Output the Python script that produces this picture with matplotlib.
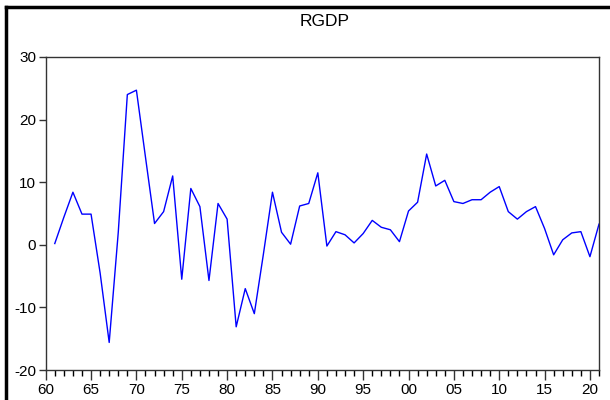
import matplotlib
matplotlib.use("Agg")
import matplotlib.pyplot as plt
from matplotlib.ticker import FixedLocator
from matplotlib.lines import Line2D

years = list(range(1961, 2022))
rgdp = [0.2, 4.4, 8.4, 4.9, 4.9, -4.5, -15.6, 2.0, 24.0, 24.7,
        14.0, 3.4, 5.3, 11.0, -5.5, 9.0, 6.1, -5.7, 6.6, 4.1,
        -13.1, -7.0, -11.0, -1.5, 8.4, 2.0, 0.1, 6.2, 6.6, 11.5,
        -0.2, 2.1, 1.6, 0.3, 1.8, 3.9, 2.8, 2.4, 0.5, 5.4,
        6.8, 14.5, 9.4, 10.3, 6.9, 6.6, 7.2, 7.2, 8.4, 9.3,
        5.3, 4.1, 5.3, 6.1, 2.6, -1.6, 0.8, 1.9, 2.1, -1.9, 3.3]
title = "RGDP"
xtick_years = list(range(1960, 2021, 5))
xtick_labels = [f"{y % 100:02d}" for y in xtick_years]
yticks = [-20, -10, 0, 10, 20, 30]

plt.rcParams['font.family'] = ['Liberation Sans', 'DejaVu Sans']
W, H = 610, 400
fig = plt.figure(figsize=(W / 100, H / 100), dpi=100)
ax = fig.add_axes([45.7 / W, 1 - 370 / H, (599 - 45.7) / W, (370 - 57) / H])

ax.plot(years, rgdp, color='#0000ff', lw=1.0)
ax.set_xlim(1960, 2021)
ax.set_ylim(-20, 30)
ax.set_yticks(yticks)
ax.set_yticklabels([str(v) for v in yticks])
ax.set_xticks(xtick_years)
ax.set_xticklabels(xtick_labels)
ax.xaxis.set_minor_locator(FixedLocator([y for y in range(1960, 2022) if y % 5 != 0]))
ax.tick_params(axis='both', direction='out', labelsize=11, colors='#333333', labelcolor='black')
ax.tick_params(axis='x', which='major', length=7, width=1, pad=2)
ax.tick_params(axis='x', which='minor', length=4, width=1)
ax.tick_params(axis='y', which='major', length=5, width=1, pad=2)
for s in ax.spines.values():
    s.set_color('#333333')
    s.set_linewidth(1.0)

fig.text(325 / W, 1 - 21 / H, title, ha='center', va='center', fontsize=12.5)

# outer frame (top and left edges)
fig.add_artist(Line2D([5.5 / W, 1.0], [1 - 7 / H, 1 - 7 / H], color='black', lw=2.5, transform=fig.transFigure))
fig.add_artist(Line2D([5.5 / W, 5.5 / W], [0, 1 - 7 / H], color='black', lw=2.5, transform=fig.transFigure))

fig.savefig("out.png", dpi=100)
